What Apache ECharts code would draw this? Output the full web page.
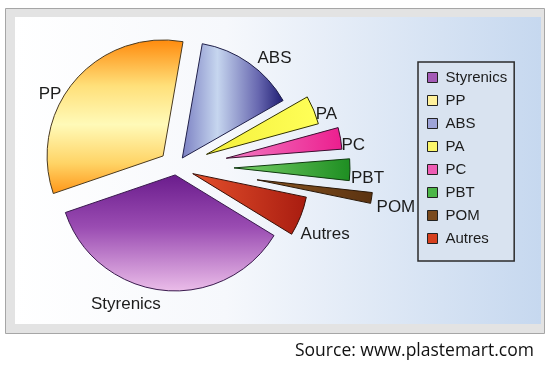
<!DOCTYPE html>
<html><head><meta charset="utf-8">
<script src="https://cdn.jsdelivr.net/npm/echarts@6/dist/echarts.min.js"></script>
<style>html,body{margin:0;padding:0;background:#fff}#c{width:550px;height:368px}</style>
</head><body><div id="c"></div>
<script>
// ---- data ----
const categories = ['Styrenics', 'PP', 'ABS', 'PA', 'PC', 'PBT', 'POM', 'Autres'];
const shares = [36, 33, 14, 4, 3, 3, 1.5, 5.5];
const sourceText = 'Source: www.plastemart.com';

// ---- style config ----
const explode = [8, 17, 11, 33, 51, 58, 82, 18];
// label placement tweaks: [blank lines above, lineHeight, lineLength, distance]
const labelTweak = [
  [0, 20, 14, 0],
  [2, 18, 6, 9],
  [0, 20, 6, 5],
  [1, 9, 0, 2],
  [1, 15, 0, 1],
  [1, 18, 1, 0],
  [1, 19, 0, 5],
  [2, 17.5, 0, 0]
];
function lin(x2, y2, stops) {
  return {type: 'linear', x: 0, y: 0, x2: x2, y2: y2,
    colorStops: stops.map(s => ({offset: s[0], color: s[1]}))};
}
const sliceFills = [
  lin(0, 1, [[0, '#6a1c8c'], [0.45, '#9a4cb2'], [1, '#ebbde9']]),
  lin(0, 1, [[0, '#ff8a0c'], [0.3, '#ffe07a'], [0.55, '#fffab8'], [0.8, '#ffd466'], [1, '#ff9618']]),
  lin(1, 0, [[0, '#7a7fc2'], [0.35, '#c6d6ef'], [0.75, '#6868b0'], [1, '#1e1c72']]),
  lin(1, 0, [[0, '#f4f03c'], [1, '#ffff58']]),
  lin(1, 0, [[0, '#f27cc4'], [1, '#ec1e8e']]),
  lin(1, 0, [[0, '#78d068'], [1, '#1e8e22']]),
  lin(1, 0, [[0, '#8a5522'], [1, '#5a3210']]),
  lin(1, 0, [[0, '#e4502c'], [1, '#a81c10']])
];
const sliceBorders = ['#3a1a4e', '#4a3a20', '#20204a', '#333300', '#3a1030', '#103a10', '#2a1808', '#3a1008'];
const legendFills = ['#a45ab6', '#fff19c', '#9ea4d8', '#fbf66a', '#ee5cb4', '#4cb648', '#7a4a1e', '#d6401e'];

const chart = echarts.init(document.getElementById('c'), null, {renderer: 'canvas'});

const series = categories.map((name, k) => ({
  type: 'pie',
  name: name,
  center: [176, 167],
  radius: 116,
  startAngle: -31.5,
  clockwise: true,
  selectedMode: 'multiple',
  selectedOffset: explode[k],
  avoidLabelOverlap: false,
  labelLayout: {hideOverlap: false},
  animation: false,
  silent: true,
  emphasis: {disabled: true},
  label: {show: true, position: 'outside', color: '#1c1c1c', fontSize: 17, fontFamily: 'Liberation Sans'},
  labelLine: {show: false, length: 6, length2: 0},
  data: categories.map((n, i) => {
    if (i !== k) {
      return {name: n, value: shares[i],
        itemStyle: {color: 'rgba(0,0,0,0)', borderWidth: 0},
        label: {show: false}, labelLine: {show: false}};
    }
    const st = {color: sliceFills[i], borderColor: sliceBorders[i], borderWidth: 1};
    const t = labelTweak[i];
    return {name: n, value: shares[i], selected: true,
      itemStyle: st, select: {itemStyle: st},
      label: {formatter: '\n'.repeat(t[0]) + '{b}', lineHeight: t[1], distanceToLabelLine: t[3]},
      labelLine: {show: false, length: t[2], length2: 0}};
  })
}));

chart.setOption({
  animation: false,
  graphic: [
    {type: 'rect', silent: true, z: -10,
      shape: {x: 5.5, y: 8.5, width: 539, height: 325},
      style: {fill: '#e3e3e3', stroke: '#a6a6a6', lineWidth: 1}},
    {type: 'rect', silent: true, z: -9,
      shape: {x: 15, y: 17, width: 526, height: 307},
      style: {fill: lin(1, 0, [[0, '#ffffff'], [0.4, '#f6f8fc'], [1, '#c6d8ef']])}},
    {type: 'text', left: 295, top: 342, silent: true,
      style: {text: sourceText, font: '17.5px "Open Sans"', fill: '#111111'}}
  ],
  legend: {
    orient: 'vertical', left: 418, top: 62,
    padding: [8, 7, 15, 9],
    backgroundColor: '#d9e3f0', borderColor: '#2b2b2b', borderWidth: 1.5,
    itemWidth: 10, itemHeight: 10, itemGap: 8, icon: 'rect', selectedMode: false,
    textStyle: {fontSize: 15, fontFamily: 'Liberation Sans', color: '#1c1c1c',
      lineHeight: 15, padding: [0, 0, 0, 3]},
    data: categories.map((n, i) => ({name: n,
      itemStyle: {color: legendFills[i], borderColor: '#222222', borderWidth: 1}}))
  },
  series: series
});
</script></body></html>
